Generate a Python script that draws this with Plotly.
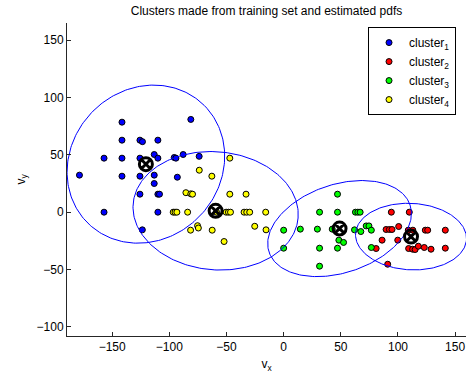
import numpy as np
import plotly.graph_objects as go

# ---- data ----
c1_x = [-141.4, -141.4, -125.7, -123.5, -110.0, -157.1, -141.4, -125.7, -113.2, -110.0,
        -95.7, -94.2, -87.9, -73.9, -81.2, -178.6, -141.4, -125.7, -113.2, -93.0,
        -113.2, -125.7, -110.0, -108.6, -157.1, -110.0, -123.6]
c1_y = [78.5, 62.8, 62.8, 61.5, 62.8, 47.1, 47.1, 47.1, 50.3, 47.1,
        47.7, 47.1, 50.3, 48.7, 80.9, 32.3, 31.4, 31.4, 32.3, 30.5,
        25.0, 15.7, 15.7, 15.7, 0.0, 0.0, -15.4]

c2_x = [94.2, 109.9, 89.6, 92.5, 94.8, 100.6, 109.0, 113.0, 123.9, 126.0, 141.4,
        86.1, 99.8, 80.9, 109.3, 112.8, 115.0, 117.8, 123.0, 128.9, 141.4, 91.0]
c2_y = [0.0, 0.0, -15.1, -15.1, -15.1, -12.5, -15.7, -15.7, -15.7, -15.7, -15.7,
        -24.4, -24.4, -31.7, -31.7, -32.3, -32.6, -29.7, -30.8, -32.3, -31.4, -45.4]

c3_x = [47.1, 31.4, 47.1, 62.8, 64.9, 66.9, 0.0, 14.6, 29.5, 42.5, 62.0, 67.5,
        72.2, 74.6, 76.7, 0.0, 31.4, 47.1, 48.3, 52.4, 31.4, 76.7]
c3_y = [15.7, 0.0, 0.0, 0.0, 0.0, 0.0, -15.7, -14.8, -14.8, -14.8, -15.4, -16.9,
        -12.0, -12.0, -15.7, -31.4, -31.4, -31.4, -24.4, -26.4, -47.1, -30.8]

c4_x = [-47.1, -73.8, -62.8, -85.5, -81.2, -79.7, -47.1, -32.9, -96.6, -95.0, -93.4,
        -84.0, -58.7, -50.3, -48.3, -46.5, -34.6, -32.3, -29.7, -15.7, -25.3, -15.4,
        -81.4, -75.3, -74.6, -62.5, -52.1]
c4_y = [47.1, 36.6, 31.4, 17.0, 16.0, 15.7, 15.7, 15.7, 0.0, 0.0, 0.0,
        0.0, 0.0, 0.0, 0.0, 0.0, 0.0, 0.0, 0.0, 0.0, -12.3, -15.4,
        -15.7, -11.8, -13.8, -15.7, -25.6]

# cluster centres and ellipse (estimated pdf contour) parameters
centre_x = [-120.5, 111.4, 48.9, -59.5]
centre_y = [41.9, -21.3, -14.3, 1.2]
ell_a = [72.3, 48.6, 65.0, 72.4]
ell_b = [65.4, 29.0, 38.5, 51.5]
ell_angle_deg = [45.0, -3.0, 18.4, -5.0]

names = ["cluster<sub>1</sub>", "cluster<sub>2</sub>", "cluster<sub>3</sub>", "cluster<sub>4</sub>"]
colors = ["#0000ff", "#ff0000", "#00ff00", "#ffff00"]

x_ticks = [-150, -100, -50, 0, 50, 100, 150]
y_ticks = [-100, -50, 0, 50, 100, 150]

# ---- figure ----
fig = go.Figure()
xs = [c1_x, c2_x, c3_x, c4_x]
ys = [c1_y, c2_y, c3_y, c4_y]
for x, y, n, c in zip(xs, ys, names, colors):
    fig.add_trace(go.Scatter(x=x, y=y, mode="markers", name=n,
                             marker=dict(color=c, size=6, line=dict(color="black", width=1))))

t = np.linspace(0, 2 * np.pi, 241)
for cx, cy, a, b, ang in zip(centre_x, centre_y, ell_a, ell_b, ell_angle_deg):
    th = np.deg2rad(ang)
    ex = cx + a * np.cos(t) * np.cos(th) - b * np.sin(t) * np.sin(th)
    ey = cy + a * np.cos(t) * np.sin(th) + b * np.sin(t) * np.cos(th)
    fig.add_trace(go.Scatter(x=ex, y=ey, mode="lines", showlegend=False,
                             line=dict(color="#0000ff", width=1), hoverinfo="skip"))

fig.add_trace(go.Scatter(x=centre_x, y=centre_y, mode="markers", showlegend=False,
                         marker=dict(symbol="circle-x-open", size=13,
                                     line=dict(color="black", width=3), color="black")))

font = dict(family="Liberation Sans, Arial, sans-serif", size=12, color="black")
fig.update_layout(
    width=469, height=380,
    margin=dict(l=67, r=3, t=23, b=44),
    paper_bgcolor="white", plot_bgcolor="white",
    font=font,
    title=dict(text="Clusters made from training set and estimated pdfs",
               x=(67 + 466) / 2 / 469, xanchor="center", y=1 - 11 / 380, yanchor="middle",
               font=dict(size=12)),
    showlegend=True,
    legend=dict(x=0.975, xanchor="right", y=0.987, yanchor="top",
                bordercolor="black", borderwidth=1, bgcolor="white",
                font=dict(size=12), itemsizing="trace", tracegroupgap=0),
)
fig.update_xaxes(range=[-189.5, 159.5], tickvals=x_ticks, ticks="inside", ticklen=4,
                 tickcolor="#262626", showline=True, linecolor="#262626", linewidth=1,
                 showgrid=False, zeroline=False, mirror=False,
                 title=dict(text="v<sub>x</sub>", font=dict(size=12), standoff=6))
fig.update_yaxes(range=[-108, 165], tickvals=y_ticks, ticks="inside", ticklen=4,
                 tickcolor="#262626", showline=True, linecolor="#262626", linewidth=1,
                 showgrid=False, zeroline=False, mirror=False,
                 title=dict(text="v<sub>y</sub>", font=dict(size=12), standoff=8))

fig.write_html("out.html")
